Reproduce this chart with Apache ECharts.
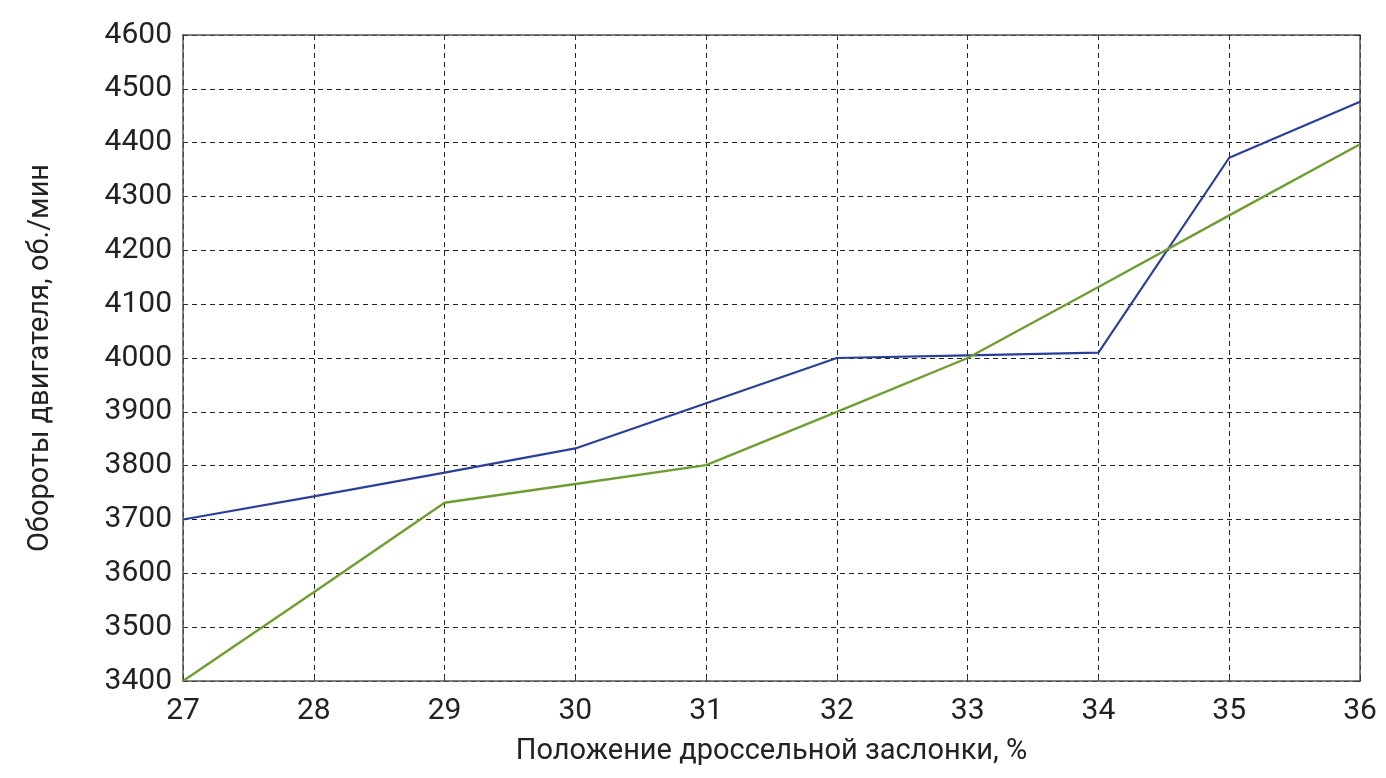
<!DOCTYPE html>
<html>
<head>
<meta charset="utf-8">
<script src="https://cdn.jsdelivr.net/npm/echarts@6/dist/echarts.min.js"></script>
<style>
  html, body { margin: 0; padding: 0; background: #fff; }
  #main { width: 1386px; height: 778px; }
</style>
</head>
<body>
<div id="main"></div>
<script>
// положение заслонки, %
var throttle = [27, 28, 29, 30, 31, 32, 33, 34, 35, 36];
// обороты, об./мин
var rpmBlue = [3700, 3743, 3787, 3832, 3916, 4000, 4005, 4010, 4372, 4476];
var rpmGreen = [3400, 3565, 3731, 3766, 3801, 3900, 4000, 4132, 4265, 4397];

var FONT = '"Liberation Sans Narrow", "Roboto", sans-serif';

function pairs(xs, ys) {
  return xs.map(function (x, i) { return [x, ys[i]]; });
}

var chart = echarts.init(document.getElementById('main'));

var gridDash = { show: true, lineStyle: { color: '#222', type: [5, 4], width: 1 } };
var boxLine = { show: true, onZero: false, lineStyle: { color: '#555', width: 1.5 } };
var tickIn = { show: true, inside: true, length: 5, lineStyle: { color: '#333' } };

chart.setOption({
  backgroundColor: '#ffffff',
  animation: false,
  grid: { left: 183, top: 35, right: 26, bottom: 97 },
  xAxis: [{
    type: 'value',
    min: 27, max: 36, interval: 1,
    name: 'Положение дроссельной заслонки, %',
    nameLocation: 'middle',
    nameGap: 56,
    nameTextStyle: { fontFamily: FONT, fontSize: 29, color: '#222' },
    axisLine: boxLine,
    axisTick: tickIn,
    splitLine: gridDash,
    axisLabel: { fontFamily: FONT, fontSize: 30, color: '#222', margin: 15 }
  }, {
    type: 'value', position: 'top',
    min: 27, max: 36, interval: 1,
    axisLine: boxLine,
    axisTick: tickIn,
    splitLine: { show: false },
    axisLabel: { show: false }
  }],
  yAxis: [{
    type: 'value',
    min: 3400, max: 4600, interval: 100,
    name: 'Обороты двигателя, об./мин',
    nameLocation: 'middle',
    nameGap: 128,
    nameTextStyle: { fontFamily: FONT, fontSize: 29, color: '#222' },
    axisLine: boxLine,
    axisTick: tickIn,
    splitLine: gridDash,
    axisLabel: {
      fontFamily: FONT, fontSize: 30, color: '#222', margin: 11,
      formatter: function (v) { return String(v); }
    }
  }, {
    type: 'value', position: 'right',
    min: 3400, max: 4600, interval: 100,
    axisLine: boxLine,
    axisTick: tickIn,
    splitLine: { show: false },
    axisLabel: { show: false }
  }],
  series: [{
    type: 'line',
    data: pairs(throttle, rpmBlue),
    symbol: 'none',
    lineStyle: { color: '#2b3f98', width: 2.2 },
    z: 3
  }, {
    type: 'line',
    data: pairs(throttle, rpmGreen),
    symbol: 'none',
    lineStyle: { color: '#6e9e32', width: 2.4 },
    z: 4
  }]
});
</script>
</body>
</html>
